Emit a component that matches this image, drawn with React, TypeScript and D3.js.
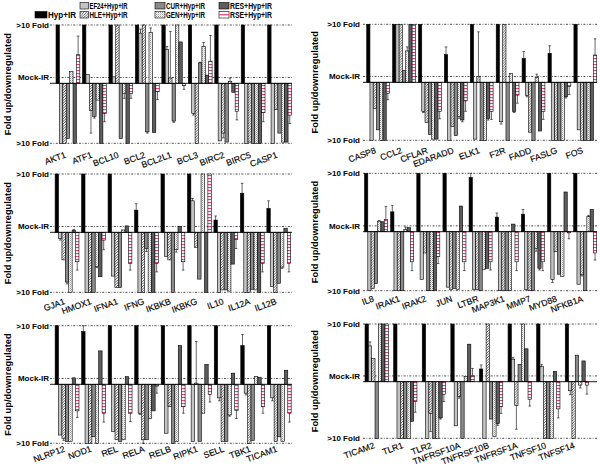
import React from 'react';
import * as d3 from 'd3';

const seriesNames = ['Hyp+IR', 'EF24+Hyp+IR', 'HLE+Hyp+IR', 'CUR+Hyp+IR', 'GEN+Hyp+IR', 'RES+Hyp+IR', 'RSE+Hyp+IR'];
const yTickValues = [10, 1, -10];
const yTickLabels = ['>10 Fold', 'Mock-IR', '>10 Fold'];
const yTitle = 'Fold up/downregulated';

// series order: Hyp, EF24, HLE, CUR, GEN, RES, RSE
const p1Genes = ['AKT1', 'ATF1', 'BCL10', 'BCL2', 'BCL2L1', 'BCL3', 'BIRC2', 'BIRC5', 'CASP1'];
const p1Values = [
  [10, -10, -10, -9.2, 2, -10, 4.9],
  [10, 1.5, -4.5, -5.5, -2.8, -10, -5],
  [10, 1.1, 10, -9.2, -1.7, -10, -1.7],
  [10, 8.6, 10, -8.1, 8.7, -8.2, -1.4],
  [10, 5.8, 0.9, -6.3, 10, 7.1, -0.4],
  [10, -5, -10, 3.5, 6.3, 1.4, 3.8],
  [10, -9.6, -8.3, -9.8, 0.3, -1.5, -4.7],
  [10, -10, -9.8, -10, -10, -10, -4.9],
  [10, -10, -4.4, -8.3, -9.8, -9.8, -5.3],
];
const p1Errors = [
  [0, 0, 0, 0, 0, 0, 3.2],
  [0, 0, 3.8, 0.3, 0, 0, 1.4],
  [0, 0, 0, 0, 0.8, 0, 0.8],
  [0, 0.7, 0, 0.2, 0.8, 0, 1.3],
  [0, 0.5, 8, 0.2, 0, 0, 0.6],
  [0, 0.3, 0, 0.1, 0.7, 0, 4.4],
  [0, 0, 0.8, 0, 0.6, 0, 1.4],
  [0, 0, 0, 0, 0, 0, 1.5],
  [0, 0, 0, 0, 0, 0, 1.4],
];

const p2Genes = ['CASP8', 'CCL2', 'CFLAR', 'EDARADD', 'ELK1', 'F2R', 'FADD', 'FASLG', 'FOS'];
const p2Values = [
  [10, -10, -4.5, -8.2, -10, -10, -1.9],
  [10, 10, 10, 2, 5.4, 10, 10],
  [10, -5, -6.9, -9, -9.8, -9.8, -5],
  [4.8, -10, -7.6, -9.2, -5.9, -6.5, -3.2],
  [10, -9.8, 1, -10, -10, -6.2, -5],
  [10, -6.8, 10, -10, 1.5, -5, -2.2],
  [4.1, -2.3, -8.6, -10, 0.8, -8.4, -5],
  [5, -10, -10, -10, -10, -2.5, -0.7],
  [10, -8.2, -10, -10, -10, -10, 4.7],
];
const p2Errors = [
  [0, 0, 0, 0, 0, 0, 1.1],
  [0, 0, 0, 0, 0.7, 0, 0],
  [0, 0.2, 0, 0, 0, 0, 1.3],
  [1.3, 0, 0, 0, 0.3, 0.3, 1.8],
  [0, 0, 7.7, 0, 0, 0.3, 1.4],
  [0, 0.4, 0, 0, 0, 0.2, 1.4],
  [1.2, 0.2, 0, 0, 0.6, 0, 1.4],
  [1.3, 0, 0, 0, 0, 0.2, 1.4],
  [0, 0, 0, 0, 0, 0, 2.8],
];

const p3Genes = ['GJA1', 'HMOX1', 'IFNA1', 'IFNG', 'IKBKB', 'IKBKG', 'IL10', 'IL12A', 'IL12B'];
const p3Values = [
  [10, -1, -4.6, -8.3, -10, 0.3, -4.9],
  [10, -10, -10, -10, -5.7, -7.4, -1.3],
  [10, -7.3, -9.2, -9.2, 0.4, 1.1, -5.2],
  [3.8, -10, -10, -2.7, -10, -10, -5.2],
  [10, -4, -4.6, -10, -2.9, 1, -4.9],
  [10, 5.4, -2.5, -7.8, 10, -10, 10],
  [2.1, -10, -9.6, -9.6, -9.8, -5.3, -1.2],
  [6.7, -10, -10, -9.5, -9.6, -10, -5.2],
  [4.1, -9, -10, -8.5, -5.8, 0.7, -5.2],
];
const p3Errors = [
  [0, 0.3, 0, 0.3, 0, 0.2, 1.4],
  [0, 0, 0, 0, 0.2, 0, 1.6],
  [0, 0, 0, 0, 0, 0, 1.1],
  [1.1, 0, 0, 0.5, 0, 0, 1.4],
  [0, 0, 0, 0, 0.4, 0, 1.4],
  [0, 0.4, 0, 0, 0, 0, 0],
  [0.7, 0, 0, 0, 0, 0, 1.5],
  [1.7, 0, 0, 0, 0, 0, 1.4],
  [1.3, 0, 0, 0, 0.2, 0, 1.4],
];

const p4Genes = ['IL8', 'IRAK1', 'IRAK2', 'JUN', 'LTBR', 'MAP3K1', 'MMP7', 'MYD88', 'NFKB1A'];
const p4Values = [
  [10, -10, -9.6, -8.8, 1.8, 1.7, 2.1],
  [3.4, -10, -10, -10, 0.4, 0.7, -5.1],
  [10, -8.1, -3.6, -10, -10, -10, -4.2],
  [10, -9.4, -9.8, -9.6, -9.8, 4.4, -5.1],
  [9.3, -9.8, -9.8, -10, -6.4, -6.2, -5.1],
  [2.5, -10, -10, -10, -10, 1.3, -5.1],
  [3, -9.8, -10, -10, -2.8, -6.2, -5.1],
  [10, -8.1, -3.4, -7.2, -7.6, 6.8, -0.2],
  [10, -8.9, -7.3, -10, 2.6, 3.8, -3.6],
];
const p4Errors = [
  [0, 0, 0, 0, 0.1, 0, 2.2],
  [1.1, 0, 0, 0, 0.4, 0, 1.5],
  [0, 0, 0, 0, 0, 0, 1.2],
  [0, 0, 0, 0, 0, 0, 1.5],
  [0.7, 0, 0, 0, 0, 0, 1.4],
  [0.7, 0, 0, 0, 0, 0, 1.5],
  [0.8, 0, 0, 0, 0.5, 0.3, 1.5],
  [0, 0.5, 0, 0, 0, 0, 1],
  [0, 0, 0.2, 0, 0.2, 0, 1.2],
];

const p5Genes = ['NLRP12', 'NOD1', 'REL', 'RELA', 'RELB', 'RIPK1', 'SELL', 'TBK1', 'TICAM1'];
const p5Values = [
  [10, -8.6, -9.2, -9.7, -9.7, 1.1, -4.5],
  [9, -10, -10, -8.9, -10, 5.7, -4.9],
  [10, -8, -9.4, -9.7, -9.4, 1.3, -4.9],
  [10, -4.9, -9.4, -9.4, -5.8, -4.5, -0.3],
  [10, -8.3, -3.8, -10, -9.7, 6.6, -3.8],
  [10, -9.7, 0.2, -9.7, -4.9, 3.4, -1.7],
  [10, -2.3, -9.7, -9.7, -5.2, 1.9, -4.4],
  [6.6, -1.5, -10, -9.5, 1.3, 1.2, -3.8],
  [10, -2.3, -9.7, -8.9, -9.7, 2.4, -4.9],
];
const p5Errors = [
  [0, 0, 0.3, 0, 0, 0, 1.1],
  [1, 0, 0, 0, 0, 0, 1.5],
  [0, 0, 0, 0, 0, 0, 1.4],
  [0, 0.2, 0.6, 0, 0, 0, 1.2],
  [0, 0, 0, 0, 0, 0, 1.1],
  [0, 0, 7.1, 0, 0, 0, 1.3],
  [0, 0.5, 0, 0, 0.2, 0, 1.4],
  [1.9, 0.3, 0, 0, 0, 0, 1.1],
  [0, 0.5, 0, 0, 0, 0, 1.5],
];

const p6Genes = ['TICAM2', 'TLR1', 'TLR2', 'TNFRSF10A', 'TNFRSF10B', 'TNFRSF1A', 'TNFSF10', 'TNFSF14'];
const p6Values = [
  [10, 6.2, 4, -10, 10, 10, 10],
  [10, -10, -10, -10, -10, -7, -3.5],
  [10, -10, -5.6, -10, -10, -6.4, -2.2],
  [10, -7.8, -2.6, -10, 0.9, 6.5, 1],
  [2.2, -10, 10, -6.6, -9.7, -7.4, -4.4],
  [10, 3.9, -4.2, 3, 10, 5.7, -3.1],
  [10, 2.6, -10, -10, -10, 1.8, -4.8],
  [10, -1.6, -10, 4.6, -0.6, 3.6, -0.6],
];
const p6Errors = [
  [0, 0.7, 0, 0, 0, 0, 0],
  [0, 0, 0, 0, 0, 0, 1.9],
  [0, 0, 3.2, 0, 0, 0.2, 1.3],
  [0, 0, 0.3, 0, 0, 0, 1.3],
  [0.7, 0, 0, 0, 0, 0.3, 1.2],
  [0, 0.3, 4.2, 0, 0, 0, 1.2],
  [0, 0.4, 0, 0, 0, 0, 1.6],
  [0, 0.7, 0, 0, 0.5, 0, 1.6],
];

const fills = ['#000000', '#c4c4c4', 'url(#hatch)', '#8a8a8a', 'url(#dots)', '#5c5c5c', 'url(#pink)'];

const panels = [
  { genes: p1Genes, values: p1Values, errors: p1Errors, lx0: 50, lx1: 292, bx0: 54.7, bx1: 292.8, pad: 0.1, top: 25, base: 83.3, bottom: 143.3, labelX: 49, titleX: 8, ldy: 14 },
  { genes: p2Genes, values: p2Values, errors: p2Errors, lx0: 363, lx1: 597, bx0: 365.4, bx1: 598, pad: 0.12, top: 24.3, base: 82.3, bottom: 140.3, labelX: 360, titleX: 315, ldy: 12.5 },
  { genes: p3Genes, values: p3Values, errors: p3Errors, lx0: 50, lx1: 292, bx0: 53.8, bx1: 292, pad: 0.1, top: 174, base: 232.3, bottom: 292.3, labelX: 49, titleX: 8, ldy: 11.5 },
  { genes: p4Genes, values: p4Values, errors: p4Errors, lx0: 363, lx1: 597, bx0: 363.2, bx1: 598, pad: 0.12, top: 173.3, base: 231.7, bottom: 290.7, labelX: 360, titleX: 315, ldy: 10.5 },
  { genes: p5Genes, values: p5Values, errors: p5Errors, lx0: 50, lx1: 292, bx0: 53.8, bx1: 292.5, pad: 0.1, top: 325.7, base: 384.3, bottom: 443.3, labelX: 49, titleX: 8, ldy: 8 },
  { genes: p6Genes, values: p6Values, errors: p6Errors, lx0: 363, lx1: 597, bx0: 363.6, bx1: 590, pad: 0.185, top: 324, base: 381.7, bottom: 438.3, labelX: 360, titleX: 315, ldy: 9.5 },
];

const legendItems = [
  { s: 0, x: 35, w: 12, row: 1, tw: 28 },
  { s: 1, x: 80, w: 8.5, row: 0, tw: 38 },
  { s: 2, x: 80, w: 8.5, row: 1, tw: 38 },
  { s: 3, x: 155, w: 10, row: 0, tw: 39 },
  { s: 4, x: 155, w: 10, row: 1, tw: 39 },
  { s: 5, x: 219, w: 10, row: 0, tw: 42 },
  { s: 6, x: 219, w: 10, row: 1, tw: 42 },
];

const FONT = 'Liberation Sans, Arial, sans-serif';

function Panel({ p }: { p: any }) {
  const x = d3.scaleBand<string>().domain(p.genes).range([p.bx0, p.bx1]).paddingInner(p.pad).paddingOuter(0.05);
  const xs = d3.scaleBand<number>().domain(d3.range(seriesNames.length)).range([0, x.bandwidth()]);
  const y = d3.scaleLinear().domain([-10, 0, 10]).range([p.bottom, p.base, p.top]);
  const dash = '2,1.5,0.8,1.5';
  return (
    <g>
      <line x1={p.lx0} x2={p.lx1} y1={y(10)} y2={y(10)} stroke="#000" strokeWidth={0.7} strokeDasharray={dash} />
      <line x1={p.lx0} x2={p.lx1} y1={y(1)} y2={y(1)} stroke="#000" strokeWidth={0.7} strokeDasharray={dash} />
      <line x1={p.lx0} x2={p.lx1} y1={y(-10)} y2={y(-10)} stroke="#000" strokeWidth={0.7} strokeDasharray={dash} />
      {p.genes.map((g: string, gi: number) => (
        <g key={g}>
          {p.values[gi].map((v: number, si: number) => {
            const bx = (x(g) as number) + (xs(si) as number);
            const bw = xs.bandwidth();
            const y0 = y(0);
            const y1 = y(v);
            const e = p.errors[gi][si];
            const ye = y(v + (v >= 0 ? e : -e));
            const cx = bx + bw / 2;
            return (
              <g key={si}>
                <rect x={bx} y={Math.min(y0, y1)} width={bw} height={Math.abs(y1 - y0)} fill={fills[si]} stroke="#000" strokeWidth={0.6} />
                {e > 0 && (
                  <g stroke="#000" strokeWidth={0.6}>
                    <line x1={cx} x2={cx} y1={y1} y2={ye} />
                    <line x1={cx - 1.3} x2={cx + 1.3} y1={ye} y2={ye} />
                  </g>
                )}
              </g>
            );
          })}
        </g>
      ))}
      <line x1={p.lx0} x2={p.lx1} y1={y(0)} y2={y(0)} stroke="#000" strokeWidth={0.9} />
      {yTickValues.map((v, i) => (
        <text key={i} x={p.labelX} y={y(v)} dy="0.35em" textAnchor="end" fontFamily={FONT} fontWeight="bold" fontSize={8}>{yTickLabels[i]}</text>
      ))}
      <text transform={`translate(${p.titleX},${(p.top + p.bottom) / 2}) rotate(-90)`} dy="0.35em" textAnchor="middle" fontFamily={FONT} fontWeight="bold" fontSize={9.3}>{yTitle}</text>
      {p.genes.map((g: string) => {
        const cx = (x(g) as number) + x.bandwidth() / 2 - 1.5;
        const cy = p.bottom + p.ldy;
        return (
          <text key={g} transform={`translate(${cx},${cy}) rotate(-20)`} textAnchor="end" fontFamily={FONT} fontSize={8.7} stroke="#000" strokeWidth={0.15}>{g}</text>
        );
      })}
    </g>
  );
}

export default function App() {
  return (
    <svg width={600} height={466} style={{ display: 'block', position: 'absolute', left: 0, top: 0, background: '#fff' }}>
      <defs>
        <pattern id="hatch" patternUnits="userSpaceOnUse" width={2.6} height={2.6}>
          <rect width={2.6} height={2.6} fill="#fff" />
          <path d="M-0.65,0.65 L0.65,-0.65 M0,2.6 L2.6,0 M1.95,3.25 L3.25,1.95" stroke="#222" strokeWidth={0.75} />
        </pattern>
        <pattern id="dots" patternUnits="userSpaceOnUse" width={2} height={2}>
          <rect width={2} height={2} fill="#fff" />
          <rect width={1} height={1} fill="#9a9a9a" />
          <rect x={1} y={1} width={1} height={1} fill="#d0d0d0" />
        </pattern>
        <pattern id="pink" patternUnits="userSpaceOnUse" width={4} height={3}>
          <rect width={4} height={3} fill="#fff" />
          <rect x={0} y={1} width={4} height={1.1} fill="#e8407e" />
        </pattern>
      </defs>
      <rect width={600} height={466} fill="#fff" />
      {legendItems.map((it) => {
        const yTop = it.row === 0 ? 2.5 : 11.5;
        return (
          <g key={it.s}>
            <rect x={it.x} y={yTop} width={it.w} height={6.5} fill={it.s === 6 ? '#fff' : fills[it.s]} stroke="#000" strokeWidth={0.6} />
            {it.s === 6 && <line x1={it.x} x2={it.x + it.w} y1={yTop + 3.2} y2={yTop + 3.2} stroke="#e8407e" strokeWidth={1.2} />}
            <text x={it.x + it.w + 1} y={yTop + 6.6} fontFamily={FONT} fontWeight="bold" fontSize={9} textLength={it.tw} lengthAdjust="spacingAndGlyphs">{seriesNames[it.s]}</text>
          </g>
        );
      })}
      {panels.map((p, i) => <Panel key={i} p={p} />)}
    </svg>
  );
}
